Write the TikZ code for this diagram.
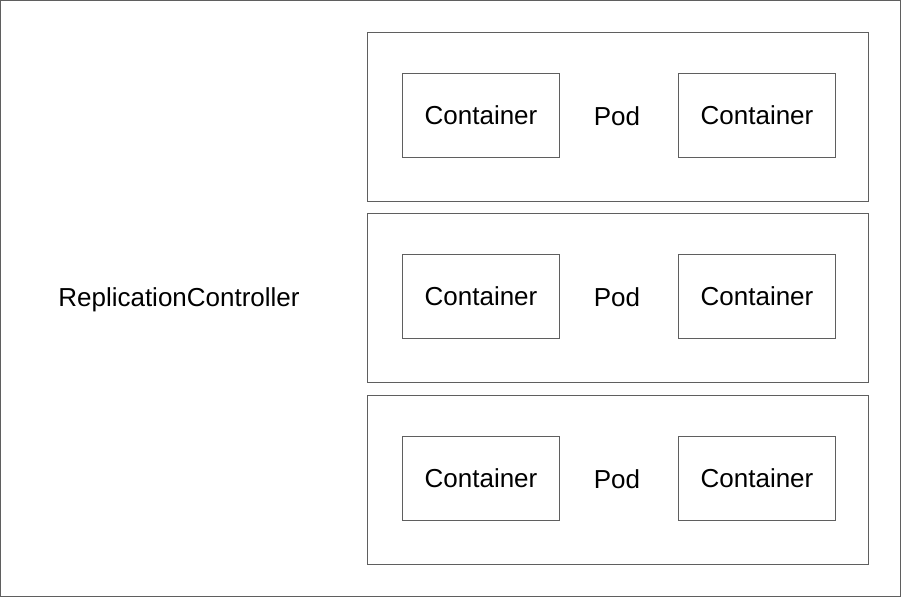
\documentclass[tikz,border=0pt]{standalone}
\usepackage{fontspec}
\setmainfont{Liberation Sans}
\begin{document}
\begin{tikzpicture}[x=1pt,y=-1pt,
  box/.style={draw=linegray,line width=1pt},
  lbl/.style={font=\fontsize{26}{30}\selectfont,inner sep=0pt}]
\definecolor{linegray}{HTML}{5F5F5F}
\useasboundingbox (0,0) rectangle (901,597);
\draw[box] (0.5,0.5) rectangle (900.5,596.5);
\node[lbl] (rc) at (179,299.5) {ReplicationController};
\foreach \i/\y in {1/32,2/213,3/395}{
  \draw[box] (367,\y) rectangle (868,\y+169);
  \node[box,minimum width=157pt,minimum height=84pt,anchor=north west,inner sep=0pt] (cl\i) at (402,\y+41) {};
  \node[box,minimum width=157pt,minimum height=84pt,anchor=north west,inner sep=0pt] (cr\i) at (678,\y+41) {};
  \node[lbl] at (cl\i.center) {Container};
  \node[lbl] at (cr\i.center) {Container};
  \node[lbl] (pod\i) at (617,\y+84.5) {Pod};
}
\end{tikzpicture}
\end{document}
